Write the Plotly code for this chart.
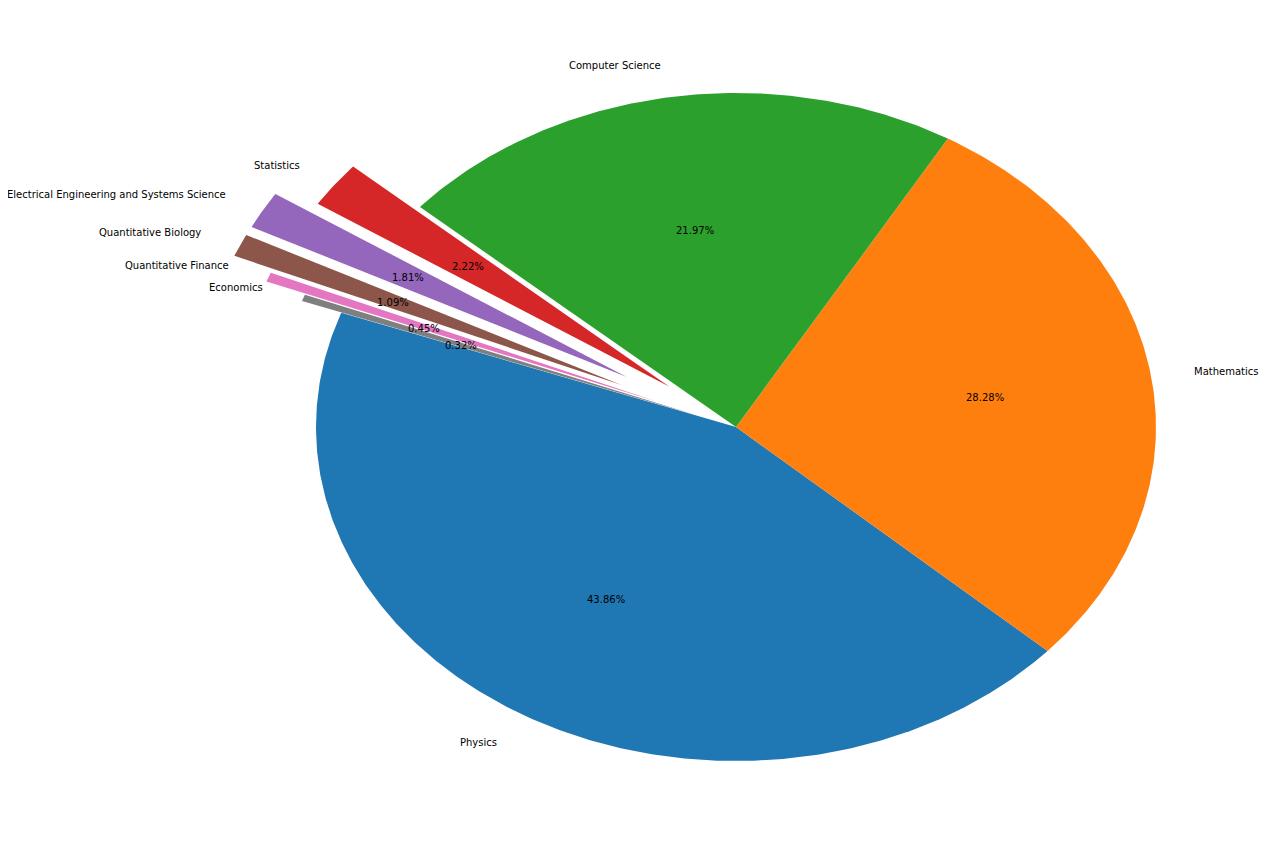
import numpy as np
import plotly.graph_objects as go

labels = [
    "Physics",
    "Mathematics",
    "Computer Science",
    "Statistics",
    "Electrical Engineering and Systems Science",
    "Quantitative Biology",
    "Quantitative Finance",
    "Economics",
]
shares = [43.86, 28.28, 21.97, 2.22, 1.81, 1.09, 0.45, 0.32]
explode = [0, 0, 0, 0.2, 0.3, 0.3, 0.2, 0.1]
colors = ["#1f77b4", "#ff7f0e", "#2ca02c", "#d62728",
          "#9467bd", "#8c564b", "#e377c2", "#7f7f7f"]
start_angle = 160

fig = go.Figure()
annotations = []
total = sum(shares)
a0 = start_angle
for name, v, ex, col in zip(labels, shares, explode, colors):
    span = 360 * v / total
    a1 = a0 + span
    mid = np.radians((a0 + a1) / 2)
    dx, dy = ex * np.cos(mid), ex * np.sin(mid)
    th = np.radians(np.linspace(a0, a1, max(3, int(span * 2) + 2)))
    xs = np.concatenate([[dx], dx + np.cos(th), [dx]])
    ys = np.concatenate([[dy], dy + np.sin(th), [dy]])
    fig.add_trace(go.Scatter(
        x=xs, y=ys, mode="lines", fill="toself", fillcolor=col,
        line=dict(width=0, color=col), name=name,
        hoveron="fills", hoverinfo="text", text=f"{name}: {v:.2f}%",
    ))
    # outer label (labeldistance 1.1) and percentage (pctdistance 0.6)
    lx, ly = (ex + 1.1) * np.cos(mid), (ex + 1.1) * np.sin(mid)
    annotations.append(dict(
        x=lx, y=ly, text=name, showarrow=False,
        xanchor="left" if lx > 0 else "right", yanchor="middle",
        borderpad=0, yshift=-1,
    ))
    px_, py_ = (ex + 0.6) * np.cos(mid), (ex + 0.6) * np.sin(mid)
    annotations.append(dict(
        x=px_, y=py_, text=f"{v:.2f}%", showarrow=False,
        xanchor="center", yanchor="middle", borderpad=0, yshift=-1,
    ))
    a0 = a1

# page body has an 8px margin, so the figure is 1264x848
fig.update_layout(
    width=1264, height=848,
    margin=dict(l=0, r=0, t=0, b=0),
    paper_bgcolor="white", plot_bgcolor="white",
    showlegend=False,
    font=dict(family="DejaVu Sans", size=10, color="black"),
    annotations=annotations,
    xaxis=dict(range=[-1.7333, 1.2762], visible=False, fixedrange=True),
    yaxis=dict(range=[-1.2844, 1.2545], visible=False, fixedrange=True),
)

fig.write_html("out.html")
